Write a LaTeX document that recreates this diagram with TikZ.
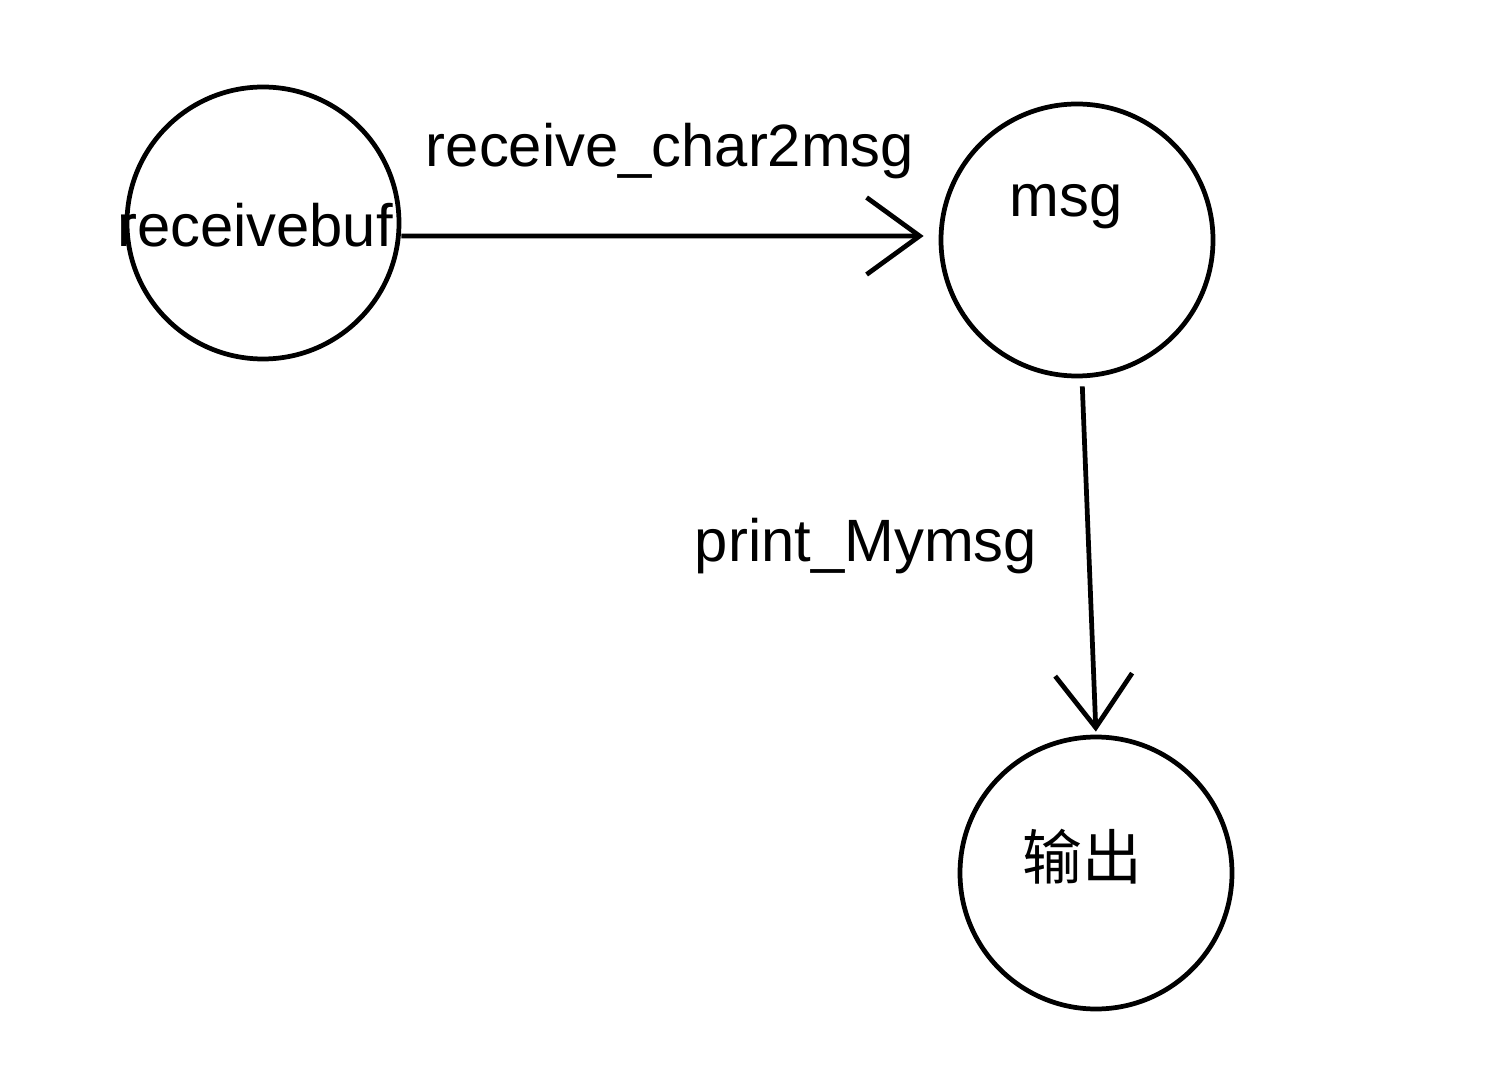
\documentclass[tikz,border=0pt]{standalone}
\usepackage{fontspec}
\setmainfont{Liberation Sans}
\newfontfamily\cjk{Noto Sans CJK SC}
\usetikzlibrary{arrows.meta}

\begin{document}
\begin{tikzpicture}[line width=1.35pt, font=\fontsize{17}{20}\selectfont,
	main/.style = {draw, circle, minimum size=2.72cm, inner sep=0pt},
	flow/.style = {-{Straight Barb[length=5.3mm, width=7.7mm, line width=1.35pt]}}]
		\useasboundingbox (0,0) rectangle (14.95,10.79);
		\node[main] (rb) at (2.63,8.56) {};
		\node at (2.55,8.54) {receivebuf};
		\node[main, label={[xshift=-1.1mm, yshift=3.3mm]center:msg}] (msg) at (10.77,8.39) {};
		\node[main, label={[xshift=-1.4mm, yshift=1.6mm]center:{\cjk 输出}}] (out) at (10.96,2.06) {};
		
		\draw[flow, shorten >=1.5mm] ([yshift=-1.3mm]rb.east) -- node[midway, yshift=8.5mm] {receive\_char2msg} ([yshift=0.4mm]msg.west);
		\draw[flow, shorten <=0.8mm, shorten >=0.3mm] ([xshift=0.5mm]msg.south) -- node[midway, left=3.8mm, yshift=1mm] {print\_Mymsg} (out.north);
	\end{tikzpicture}
\end{document}
